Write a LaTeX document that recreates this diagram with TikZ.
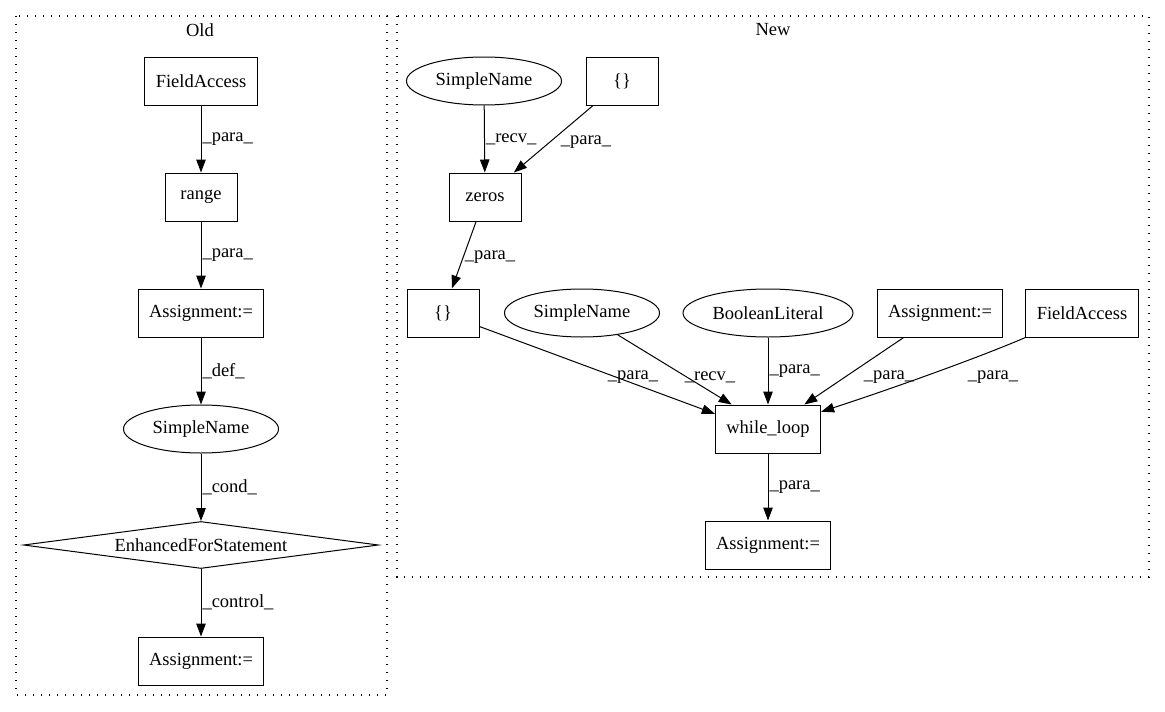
\documentclass[tikz,border=0pt]{standalone}
\usepackage{fontspec}
\setmainfont{Liberation Serif}
\usepackage{tikz}
\usetikzlibrary{shapes.geometric,arrows.meta}

\begin{document}
\begin{tikzpicture}[x=1pt,y=-1pt,font=\fontsize{18.5}{22}\selectfont,line width=1pt,
	box/.style={draw,rectangle,minimum width=72pt,minimum height=48pt,inner xsep=11pt},
	oval/.style={draw,ellipse,minimum height=48pt,inner sep=0pt},
	cond/.style={draw,diamond,aspect=7.5,inner sep=0pt,minimum width=355pt,minimum height=47pt},
	lbl/.style={inner sep=1pt},
	flow/.style={-{Triangle[length=13pt,width=9.5pt]}},
	cluster/.style={line width=1.2pt,dash pattern=on 1.2pt off 6.8pt}]
	\useasboundingbox (0,0) rectangle (1165,712);
	\draw[cluster] (16,16) rectangle (387,695);
	\draw[cluster] (397,16) rectangle (1149,577);
	\node (old) at (200,30) {Old};
	\node (new) at (773,30) {New};

	\node[box] (ofa) at (201,81) {FieldAccess};
	\node[box] (orange) at (201,197) {range};
	\node[box] (oas1) at (201,313) {Assignment:=};
	\node[oval,minimum width=155pt] (osn) at (201,429) {SimpleName};
	\node[cond] (ofor) at (201,545) {EnhancedForStatement};
	\node[box] (oas2) at (201,661) {Assignment:=};
	\draw[flow] (ofa) -- node[lbl,anchor=west] {\_para\_} (orange);
	\draw[flow] (orange) -- node[lbl,anchor=west] {\_para\_} (oas1);
	\draw[flow] (oas1) -- node[lbl,anchor=west] {\_def\_} (osn);
	\draw[flow] (osn) -- node[lbl,anchor=west] {\_cond\_} (ofor);
	\draw[flow] (ofor) -- node[lbl,anchor=west] {\_control\_} (oas2);

	\node[oval,minimum width=155pt] (nsn1) at (484,81) {SimpleName};
	\node[box] (nbr1) at (622,81) {\{\}};
	\node[box] (nzeros) at (485,197) {zeros};
	\node[box] (nbr2) at (443,313) {\{\}};
	\node[oval,minimum width=155pt] (nsn2) at (582,313) {SimpleName};
	\node[oval,minimum width=170pt] (nbool) at (768,313) {BooleanLiteral};
	\node[box] (nas1) at (940,313) {Assignment:=};
	\node[box] (nfa) at (1082,313) {FieldAccess};
	\node[box] (nwhile) at (768,429) {while\_loop};
	\node[box] (nas2) at (768,545) {Assignment:=};
	\draw[flow] (nsn1) -- node[lbl,anchor=west] {\_recv\_} (nzeros);
	\draw[flow] (nbr1) -- (nzeros);
	\node[lbl] (lpa1) at (586,142) {\_para\_};
	\draw[flow] (nzeros) -- (nbr2);
	\node[lbl] (lpa2) at (490,257) {\_para\_};
	\draw[flow] (nbr2) -- (nwhile.164);
	\node[lbl] (lpa3) at (633,377) {\_para\_};
	\draw[flow] (nsn2) -- (nwhile.146);
	\node[lbl] (lrecv) at (710,377) {\_recv\_};
	\draw[flow] (nbool) -- node[lbl,anchor=west] {\_para\_} (nwhile);
	\draw[flow] (nas1) -- (nwhile.34);
	\node[lbl] (lpa5) at (889,377) {\_para\_};
	\draw[flow] (nfa) .. controls (985,355) and (900,386) .. (nwhile.18);
	\node[lbl] (lpa6) at (993,377) {\_para\_};
	\draw[flow] (nwhile) -- node[lbl,anchor=west] {\_para\_} (nas2);
\end{tikzpicture}
\end{document}
